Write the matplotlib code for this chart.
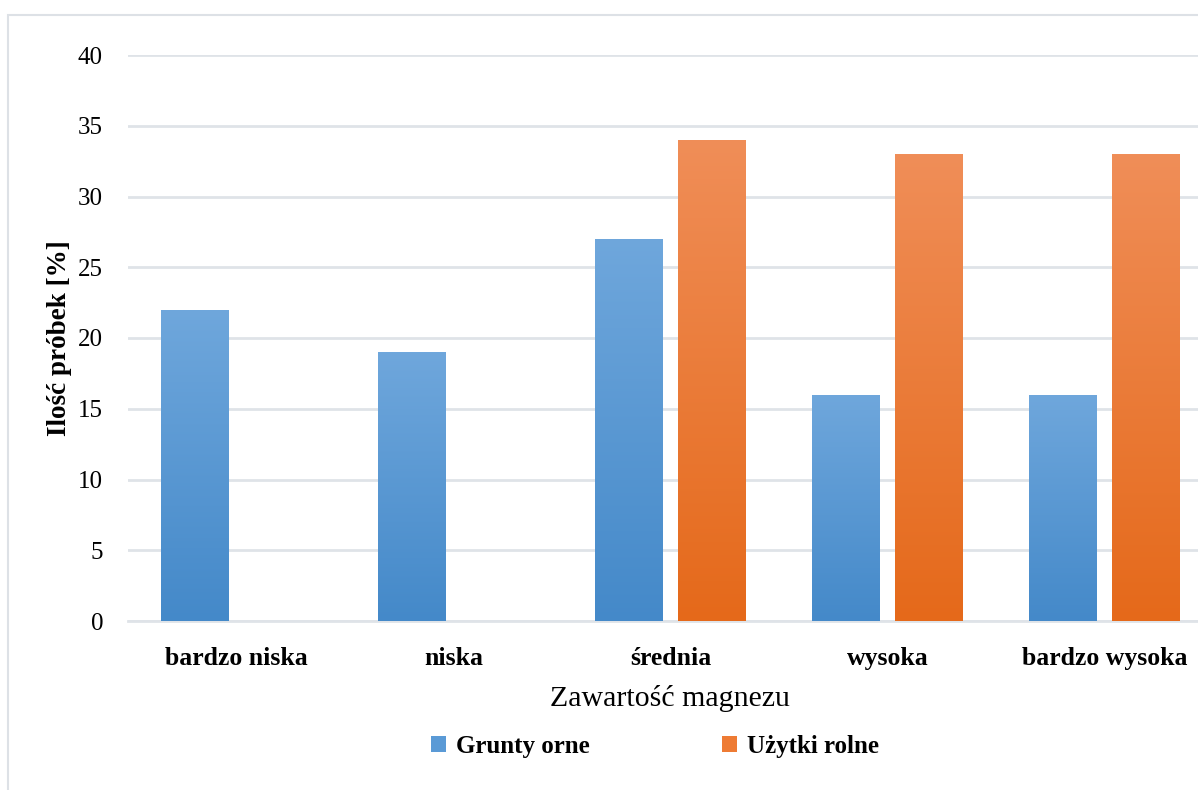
import numpy as np
import matplotlib
matplotlib.use("Agg")
import matplotlib.pyplot as plt
from matplotlib.colors import LinearSegmentedColormap
from matplotlib.patches import Rectangle, Patch

categories = ["bardzo niska", "niska", "średnia", "wysoka", "bardzo wysoka"]
grunty_orne = [22, 19, 27, 16, 16]
uzytki_rolne = [0, 0, 34, 33, 33]
series_names = ["Grunty orne", "Użytki rolne"]

blue_grad = LinearSegmentedColormap.from_list("blue", ["#4489c9", "#6fa7dc"])
orange_grad = LinearSegmentedColormap.from_list("orange", ["#e5691a", "#f08e58"])

plt.rcParams["font.family"] = ["Liberation Serif", "DejaVu Serif"]

fig = plt.figure(figsize=(11.98, 7.9), dpi=100)

# light frame around the chart area
fig.patches.append(Rectangle((8 / 1198, -0.01), 1.1, 1 - 15 / 790 + 0.01,
                             transform=fig.transFigure, fill=False,
                             edgecolor="#dde1e6", linewidth=1.5))

left, right = 128 / 1198, 1213 / 1198
bottom, top = 1 - 621 / 790, 1 - 55 / 790
ax = fig.add_axes([left, bottom, right - left, top - bottom])

x = np.arange(len(categories))
width = 0.313
offset = 0.19


def gradient_bars(xs, heights, cmap):
    bars = ax.bar(xs, heights, width, color="none", edgecolor="none")
    grad = np.linspace(0, 1, 256).reshape(-1, 1)
    for b, h in zip(bars, heights):
        if h <= 0:
            continue
        x0 = b.get_x()
        im = ax.imshow(grad, cmap=cmap, origin="lower", aspect="auto",
                       extent=[x0, x0 + width, 0, h], zorder=3)
        im.set_clip_path(b)
    return bars


gradient_bars(x - offset, grunty_orne, blue_grad)
gradient_bars(x + offset, uzytki_rolne, orange_grad)

ax.set_xlim(-0.5, len(categories) - 0.5)
ax.set_ylim(0, 40)
ax.set_yticks(range(0, 41, 5))
ax.yaxis.grid(True, color="#dfe3e8", linewidth=2)
ax.set_axisbelow(True)
for s in ["top", "right", "left"]:
    ax.spines[s].set_visible(False)
ax.spines["bottom"].set_color("#dfe3e8")
ax.spines["bottom"].set_linewidth(2)
ax.tick_params(length=0)
ax.tick_params(axis="y", labelsize=18, pad=18)
ax.set_xticks(x)
ax.set_xticklabels(categories, fontsize=18.5, fontweight="bold")
ax.tick_params(axis="x", pad=19)

ax.set_ylabel("Ilość próbek [%]", fontsize=19.5, fontweight="bold", labelpad=4)
fig.text(670 / 1198, 1 - 699 / 790, "Zawartość magnezu", fontsize=21.5,
         ha="center", va="center")

handles = [Patch(facecolor="#5a9ad6"), Patch(facecolor="#ee7b34")]
fig.legend(handles, series_names, loc="center", ncol=2,
           bbox_to_anchor=(655 / 1198, 1 - 746 / 790), frameon=False,
           prop={"size": 18, "weight": "bold"}, handlelength=0.6,
           handleheight=0.6, handletextpad=0.4, columnspacing=5.3)

fig.savefig("out.png", dpi=100)
